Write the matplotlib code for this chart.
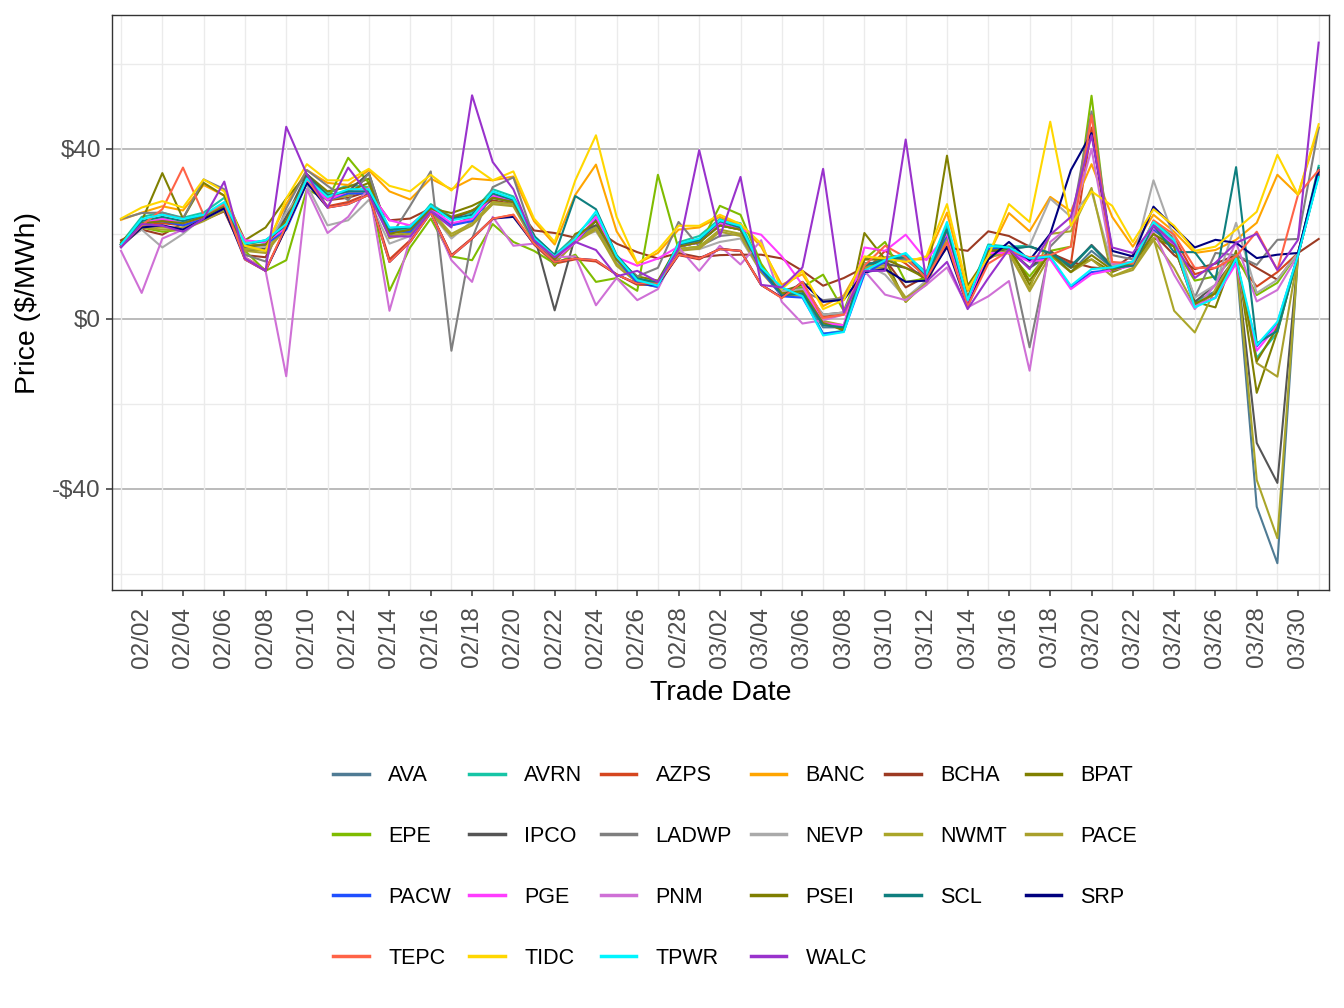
import numpy as np
import pandas as pd
import matplotlib
matplotlib.use("Agg")
import matplotlib.pyplot as plt
import matplotlib.dates as mdates

plt.rcParams['font.family'] = ['Liberation Sans', 'DejaVu Sans']

# trade dates 02/01 - 03/31
dates = pd.date_range("2023-02-01", "2023-03-31", freq="D")

AVA = [17.5, 22.5, 23.0, 22.5, 24.0, 26.5, 17.0, 17.5, 22.0, 33.0,
       28.5, 30.0, 30.5, 20.5, 21.0, 26.0, 22.0, 23.5, 28.5, 27.5,
       19.0, 14.0, 18.0, 23.0, 14.0, 9.0, 8.0, 17.0, 18.0, 22.5,
       21.0, 12.0, 6.0, 5.5, -2.0, -2.0, 13.0, 13.5, 14.0, 10.0,
       21.0, 4.0, 16.5, 16.5, 12.0, 15.0, 11.0, 16.0, 12.0, 13.0,
       21.5, 17.0, 4.0, 6.5, 14.0, -44.2, -57.5, 15.0, 34.5]
AVRN = [17.8, 24.0, 25.0, 23.8, 25.0, 28.5, 18.0, 18.0, 22.0, 34.0,
        29.5, 31.5, 31.0, 21.0, 21.0, 27.0, 24.0, 25.0, 30.5, 28.8,
        19.5, 15.0, 19.5, 24.5, 14.0, 9.5, 8.0, 18.0, 19.5, 23.5,
        22.5, 12.5, 6.0, 5.8, -3.5, -2.8, 12.0, 14.5, 15.0, 11.0,
        22.0, 5.0, 17.5, 17.0, 17.2, 15.0, 12.0, 17.2, 12.5, 13.0,
        23.0, 19.0, 4.0, 6.0, 14.5, -9.2, -3.2, 15.0, 36.0]
AZPS = [17.5, 22.0, 22.5, 22.0, 24.0, 26.5, 14.5, 11.5, 21.5, 32.5,
        26.5, 27.5, 29.5, 14.0, 18.5, 25.0, 15.0, 19.0, 23.5, 24.5,
        17.5, 13.0, 14.0, 13.5, 10.5, 8.0, 8.0, 15.0, 14.0, 16.5,
        16.0, 8.0, 5.0, 8.5, 0.5, 1.0, 11.0, 16.0, 13.0, 9.0,
        18.0, 3.5, 14.0, 17.0, 14.0, 15.0, 13.0, 45.0, 12.5, 13.0,
        22.0, 19.0, 10.5, 12.0, 14.0, 7.6, 11.0, 15.5, 34.5]
BANC = [23.3, 25.0, 26.5, 25.5, 31.5, 29.0, 18.0, 17.0, 27.0, 35.0,
        32.0, 31.5, 35.0, 30.0, 28.1, 33.0, 30.5, 33.0, 32.6, 33.5,
        23.0, 17.5, 29.2, 36.3, 20.6, 13.0, 15.5, 21.0, 21.5, 24.0,
        22.0, 17.0, 8.0, 10.5, 3.0, 5.5, 14.0, 14.5, 14.0, 14.0,
        25.0, 6.5, 15.0, 24.9, 20.6, 28.7, 25.3, 36.4, 24.0, 17.0,
        24.5, 20.5, 15.5, 16.2, 18.6, 22.6, 33.9, 29.2, 45.0]
BCHA = [18.5, 21.0, 19.8, 22.5, 23.2, 25.3, 15.0, 14.5, 24.0, 32.0,
        27.9, 28.5, 30.0, 23.2, 23.6, 26.0, 23.5, 25.5, 27.9, 27.0,
        20.8, 20.2, 19.1, 21.0, 17.7, 15.7, 14.2, 15.5, 14.5, 15.0,
        15.1, 15.1, 14.2, 11.3, 7.8, 9.6, 12.1, 14.0, 7.4, 10.0,
        16.8, 16.0, 20.6, 19.5, 17.0, 15.5, 13.4, 12.1, 11.7, 15.0,
        20.0, 15.0, 11.7, 13.0, 15.0, 12.0, 9.2, 15.5, 18.8]
BPAT = [18.0, 23.0, 34.3, 23.6, 32.0, 29.0, 18.5, 21.5, 28.3, 34.0,
        30.0, 31.0, 33.0, 20.6, 22.0, 26.0, 24.9, 26.6, 29.0, 28.0,
        19.5, 12.5, 20.0, 22.0, 14.0, 10.0, 9.0, 17.5, 18.0, 22.0,
        21.0, 12.0, 6.5, 8.0, -0.7, -2.8, 20.2, 14.0, 4.0, 9.0,
        38.4, 7.8, 15.0, 17.0, 8.0, 16.0, 12.0, 14.0, 11.0, 13.0,
        19.0, 17.0, 4.0, 2.7, 16.0, -17.4, -3.0, 15.0, 34.0]
EPE = [17.5, 21.5, 20.5, 21.0, 23.5, 26.5, 16.0, 11.3, 13.8, 30.5,
       28.0, 37.9, 32.0, 6.6, 16.8, 23.6, 14.7, 13.8, 22.3, 18.1,
       16.0, 13.0, 15.1, 8.7, 9.6, 6.6, 33.9, 16.4, 17.0, 26.6,
       24.5, 13.0, 6.0, 7.5, 10.4, 1.9, 14.0, 18.1, 8.7, 9.5,
       20.0, 4.0, 15.5, 15.5, 10.0, 16.0, 17.0, 52.5, 12.0, 13.0,
       21.0, 17.0, 9.0, 10.0, 15.0, 5.6, 8.5, 15.5, 34.0]
IPCO = [17.5, 22.5, 23.0, 22.5, 24.0, 26.5, 16.0, 16.5, 24.0, 34.0,
        29.0, 30.0, 34.3, 19.5, 20.0, 26.0, 22.0, 24.0, 28.5, 27.5,
        19.8, 2.0, 19.5, 22.0, 14.0, 9.0, 8.0, 17.0, 18.0, 22.0,
        21.0, 11.5, 6.5, 7.0, 1.0, 1.5, 13.0, 13.0, 12.0, 10.0,
        21.0, 4.5, 16.0, 16.0, 12.0, 16.0, 12.1, 17.4, 12.5, 13.0,
        22.0, 17.5, 4.0, 8.0, 14.5, -29.2, -38.6, 15.0, 35.0]
LADWP = [23.5, 24.9, 25.0, 23.6, 32.8, 30.5, 15.1, 13.5, 26.0, 35.0,
         31.3, 27.9, 34.3, 19.0, 26.6, 34.7, -7.5, 18.9, 31.0, 33.3,
         19.0, 14.0, 19.5, 21.5, 14.0, 10.0, 12.0, 22.8, 17.0, 19.5,
         20.0, 11.0, 7.0, 6.5, 4.4, 4.9, 14.0, 14.0, 14.0, 11.0,
         21.0, 4.0, 15.0, 16.0, -6.7, 17.0, 22.0, 48.8, 15.0, 14.0,
         22.0, 18.0, 5.0, 15.5, 15.0, 12.7, 18.6, 18.8, 45.0]
NEVP = [17.5, 21.0, 16.8, 20.0, 24.0, 26.0, 16.5, 17.0, 25.0, 31.5,
        22.0, 23.2, 28.0, 17.7, 19.5, 25.0, 18.9, 23.0, 27.0, 27.0,
        18.0, 14.0, 19.0, 20.6, 13.5, 9.5, 8.5, 16.5, 16.4, 18.1,
        18.9, 11.0, 6.5, 7.0, 1.0, 1.5, 13.0, 10.4, 4.9, 9.0,
        20.0, 4.5, 15.0, 16.0, 17.2, 28.3, 24.0, 30.0, 12.5, 13.5,
        32.6, 19.0, 5.0, 8.0, 22.6, 6.1, 9.2, 15.5, 34.0]
NWMT = [17.5, 22.0, 21.5, 21.5, 23.5, 26.0, 16.5, 16.0, 22.0, 32.5,
        28.5, 29.5, 31.0, 19.5, 20.5, 25.5, 20.0, 22.5, 27.5, 27.0,
        18.5, 13.5, 18.5, 21.5, 13.0, 9.0, 8.0, 16.5, 17.0, 21.0,
        20.0, 11.5, 6.0, 6.0, -0.5, -1.5, 12.5, 12.5, 4.0, 8.5,
        19.5, 5.0, 15.0, 16.0, 7.0, 20.0, 20.6, 30.8, 10.0, 12.0,
        19.0, 1.9, -3.2, 7.0, 15.0, -37.9, -51.6, 15.0, 34.0]
PACE = [17.0, 21.5, 21.0, 21.0, 23.0, 25.5, 16.0, 15.5, 21.5, 32.0,
        28.0, 29.0, 30.5, 19.0, 20.0, 25.0, 19.5, 22.0, 27.0, 26.5,
        18.0, 13.0, 18.0, 21.0, 12.5, 8.5, 7.5, 16.0, 16.5, 20.5,
        19.5, 11.0, 5.5, 5.5, -1.0, -2.0, 12.0, 12.0, 5.0, 8.0,
        19.0, 4.5, 14.5, 15.5, 6.5, 15.0, 11.0, 14.0, 10.0, 11.5,
        18.5, 12.0, 3.0, 6.0, 14.0, -10.4, -13.6, 15.0, 34.0]
PACW = [17.3, 22.5, 23.0, 22.0, 23.5, 26.5, 17.0, 17.5, 21.0, 32.0,
        28.0, 29.5, 29.5, 20.5, 20.5, 26.0, 22.0, 23.0, 29.0, 27.5,
        18.5, 14.0, 18.0, 23.5, 14.0, 8.5, 7.5, 17.0, 18.0, 22.5,
        21.0, 11.5, 5.3, 5.0, -3.5, -3.0, 10.5, 13.5, 14.7, 10.0,
        19.8, 4.0, 16.5, 16.5, 13.5, 14.5, 7.5, 11.0, 11.5, 13.0,
        21.0, 17.5, 3.0, 5.0, 13.5, -6.5, -1.0, 15.0, 34.0]
PGE = [17.5, 22.5, 23.5, 22.5, 24.0, 27.0, 18.5, 18.0, 21.5, 32.5,
       28.0, 30.0, 30.0, 23.2, 22.0, 26.0, 22.5, 23.5, 29.0, 28.0,
       19.0, 14.0, 18.0, 24.0, 14.5, 12.5, 14.2, 17.0, 18.0, 22.5,
       21.0, 19.8, 14.7, 8.0, -1.0, -1.5, 16.8, 16.0, 19.8, 13.8,
       20.0, 3.5, 15.5, 15.5, 13.5, 14.0, 7.0, 10.5, 11.5, 12.5,
       21.5, 17.5, 3.0, 5.0, 13.0, -7.5, -1.5, 15.0, 34.0]
PNM = [16.0, 6.1, 18.9, 21.0, 23.5, 26.0, 14.5, 11.3, -13.5, 30.5,
       20.2, 24.0, 30.9, 1.9, 18.9, 25.0, 13.8, 8.7, 24.0, 17.2,
       17.7, 14.5, 14.7, 3.2, 9.6, 4.4, 7.0, 16.8, 11.3, 17.2,
       12.8, 18.5, 4.0, -1.1, -0.3, 1.0, 11.3, 5.7, 4.4, 8.0,
       12.1, 2.7, 5.3, 8.9, -12.2, 18.1, 22.0, 40.0, 13.0, 13.4,
       20.5, 10.4, 2.3, 8.0, 18.0, 4.1, 6.8, 15.0, 34.0]
PSEI = [17.5, 22.5, 23.0, 22.5, 24.0, 26.5, 17.0, 17.5, 23.0, 33.5,
        29.0, 30.0, 32.0, 20.0, 21.0, 26.0, 24.0, 25.5, 28.5, 27.5,
        19.0, 14.0, 19.0, 23.0, 14.0, 9.5, 8.5, 17.0, 18.0, 22.0,
        21.0, 12.0, 6.0, 6.5, -1.0, -2.5, 14.0, 14.0, 12.0, 9.5,
        21.0, 5.0, 16.0, 16.5, 9.0, 15.5, 11.0, 15.0, 11.5, 13.0,
        20.0, 17.0, 3.5, 6.0, 14.5, -10.0, -2.0, 15.0, 34.0]
SCL = [17.5, 23.0, 24.0, 23.0, 24.5, 27.0, 17.5, 18.5, 22.0, 33.5,
       29.0, 30.0, 30.0, 21.0, 21.5, 26.5, 23.5, 24.5, 29.5, 28.0,
       19.5, 15.0, 28.9, 25.8, 15.0, 9.5, 8.5, 17.5, 18.5, 23.0,
       21.5, 12.0, 5.5, 6.0, -1.5, -2.0, 12.5, 14.0, 14.5, 10.0,
       21.0, 4.5, 17.2, 16.5, 17.0, 15.5, 12.5, 17.2, 12.0, 12.5,
       22.0, 15.7, 15.7, 9.2, 35.7, -5.8, -2.8, 15.0, 35.5]
SRP = [17.0, 21.5, 22.0, 21.0, 23.5, 26.0, 14.0, 11.3, 21.5, 32.0,
       26.2, 27.0, 29.2, 13.4, 18.1, 25.0, 14.8, 18.9, 23.6, 24.0,
       17.7, 13.4, 14.2, 13.8, 10.4, 8.3, 8.0, 15.1, 14.2, 16.4,
       16.0, 8.0, 5.0, 8.7, 4.0, 4.5, 11.0, 11.7, 8.7, 9.0,
       17.0, 3.0, 14.0, 18.1, 13.8, 20.0, 35.0, 43.7, 16.0, 14.7,
       26.4, 21.5, 16.8, 18.6, 17.9, 14.3, 15.1, 15.5, 35.0]
TEPC = [17.0, 22.0, 25.8, 35.6, 24.5, 27.0, 14.0, 11.3, 22.0, 33.0,
        26.2, 27.0, 29.2, 13.4, 18.1, 25.0, 14.8, 18.9, 23.6, 24.5,
        17.7, 13.4, 14.2, 13.8, 10.4, 8.3, 8.3, 15.1, 14.2, 16.4,
        16.0, 8.0, 4.9, 8.7, 0.2, 1.0, 12.5, 17.2, 14.5, 9.5,
        18.0, 3.0, 13.0, 16.0, 14.5, 15.0, 17.0, 47.9, 13.4, 13.0,
        23.2, 19.8, 12.0, 12.0, 14.7, 20.5, 11.5, 29.2, 35.0]
TIDC = [23.6, 26.2, 27.7, 26.2, 32.8, 30.0, 17.2, 16.0, 28.3, 36.4,
        32.6, 32.6, 35.3, 31.3, 30.0, 33.9, 30.2, 36.0, 32.6, 34.7,
        23.6, 18.1, 32.6, 43.2, 24.0, 13.0, 16.2, 21.9, 21.9, 24.5,
        22.3, 17.7, 7.0, 11.3, 2.3, 4.4, 14.7, 14.2, 13.4, 14.7,
        27.0, 7.0, 14.7, 27.0, 22.8, 46.4, 21.9, 30.0, 26.6, 18.1,
        25.8, 21.9, 16.0, 17.0, 21.0, 25.2, 38.6, 29.2, 45.8]
TPWR = [17.5, 23.5, 24.5, 23.5, 24.5, 27.5, 17.7, 18.5, 22.3, 33.0,
        28.7, 30.5, 30.5, 21.5, 21.7, 26.6, 23.2, 24.0, 30.0, 28.3,
        19.0, 14.7, 18.9, 25.3, 14.7, 9.1, 7.8, 17.7, 18.9, 23.2,
        21.9, 12.1, 7.4, 5.3, -3.9, -3.1, 11.3, 13.8, 15.5, 10.5,
        22.8, 4.4, 17.2, 16.8, 14.2, 14.7, 7.8, 11.7, 12.1, 13.5,
        22.8, 18.5, 2.7, 4.9, 14.2, -6.2, -0.7, 15.0, 33.4]
WALC = [16.8, 22.3, 21.9, 20.5, 23.6, 32.3, 14.2, 11.3, 45.2, 34.0,
        26.2, 35.6, 29.2, 19.4, 19.4, 25.3, 21.5, 52.6, 36.9, 30.5,
        18.5, 14.5, 18.1, 16.2, 10.0, 11.3, 8.7, 16.4, 39.7, 19.4,
        33.4, 8.0, 7.4, 12.1, 35.3, 1.5, 11.3, 11.3, 42.2, 8.7,
        13.4, 2.3, 9.6, 16.4, 11.7, 19.8, 24.0, 43.2, 16.8, 15.5,
        22.0, 17.7, 9.6, 13.2, 17.9, 20.0, 11.5, 18.6, 65.0]

series = {
    "AVA": (AVA, "#4F7B94"), "AVRN": (AVRN, "#17C5A6"), "AZPS": (AZPS, "#D5461F"),
    "BANC": (BANC, "#FFA500"), "BCHA": (BCHA, "#9C3A22"), "BPAT": (BPAT, "#808000"),
    "EPE": (EPE, "#7FBC00"), "IPCO": (IPCO, "#555555"), "LADWP": (LADWP, "#7F7F7F"),
    "NEVP": (NEVP, "#AAAAAA"), "NWMT": (NWMT, "#AAA629"), "PACE": (PACE, "#A9A02C"),
    "PACW": (PACW, "#1F4FFF"), "PGE": (PGE, "#FF3DFF"), "PNM": (PNM, "#CF70D6"),
    "PSEI": (PSEI, "#7F7F00"), "SCL": (SCL, "#0F7F7F"), "SRP": (SRP, "#00007F"),
    "TEPC": (TEPC, "#FF6347"), "TIDC": (TIDC, "#FFD700"), "TPWR": (TPWR, "#00F5FF"),
    "WALC": (WALC, "#9932CC"),
}

fig = plt.figure(figsize=(13.44, 10.08), dpi=100)
ax = fig.add_axes([112 / 1344, 1 - 590 / 1008, (1329 - 112) / 1344, (590 - 15) / 1008])

handles = {}
for name, (vals, col) in series.items():
    h, = ax.plot(dates, vals, color=col, lw=1.5, label=name)
    handles[name] = h

# grid like theme_bw with darker major lines
ax.set_ylim(-63.8, 71.5)
ax.set_xlim(dates[0] - pd.Timedelta(hours=10.5), dates[-1] + pd.Timedelta(hours=12))
ax.set_yticks([-40, 0, 40])
ax.set_yticklabels(["-$40", "$0", "$40"])
for yv in [-60, -20, 20, 60]:
    ax.axhline(yv, color="#EBEBEB", lw=1.0, zorder=0)
for yv in [-40, 0, 40]:
    ax.axhline(yv, color="#A8A8A8", lw=1.1, zorder=0)
for d in dates[::2]:
    ax.axvline(d, color="#EBEBEB", lw=1.0, zorder=0)

ax.set_xticks(dates[1::2])
ax.xaxis.set_major_formatter(mdates.DateFormatter("%m/%d"))
plt.setp(ax.get_xticklabels(), rotation=90)
ax.tick_params(axis="both", labelsize=17.5, colors="#333333", length=4, width=1.1)
ax.tick_params(axis="y", labelcolor="#4D4D4D", pad=4)
ax.tick_params(axis="x", labelcolor="#4D4D4D", pad=8)
for sp in ax.spines.values():
    sp.set_color("#333333")
    sp.set_linewidth(1.0)

ax.set_xlabel("Trade Date", fontsize=20.5, labelpad=9)
ax.set_ylabel("Price ($/MWh)", fontsize=20.5, labelpad=8)

order = ["AVA", "EPE", "PACW", "TEPC",
         "AVRN", "IPCO", "PGE", "TIDC",
         "AZPS", "LADWP", "PNM", "TPWR",
         "BANC", "NEVP", "PSEI", "WALC",
         "BCHA", "NWMT", "SCL",
         "BPAT", "PACE", "SRP"]
leg = fig.legend([handles[n] for n in order], order, ncol=6, loc="center",
                 bbox_to_anchor=(0.547, 0.140), frameon=False, fontsize=15.5,
                 handlelength=1.65, handletextpad=0.9, columnspacing=0.86,
                 labelspacing=1.85)
for lh in leg.get_lines():
    lh.set_linewidth(2.5)

fig.savefig("out.png", dpi=100)
